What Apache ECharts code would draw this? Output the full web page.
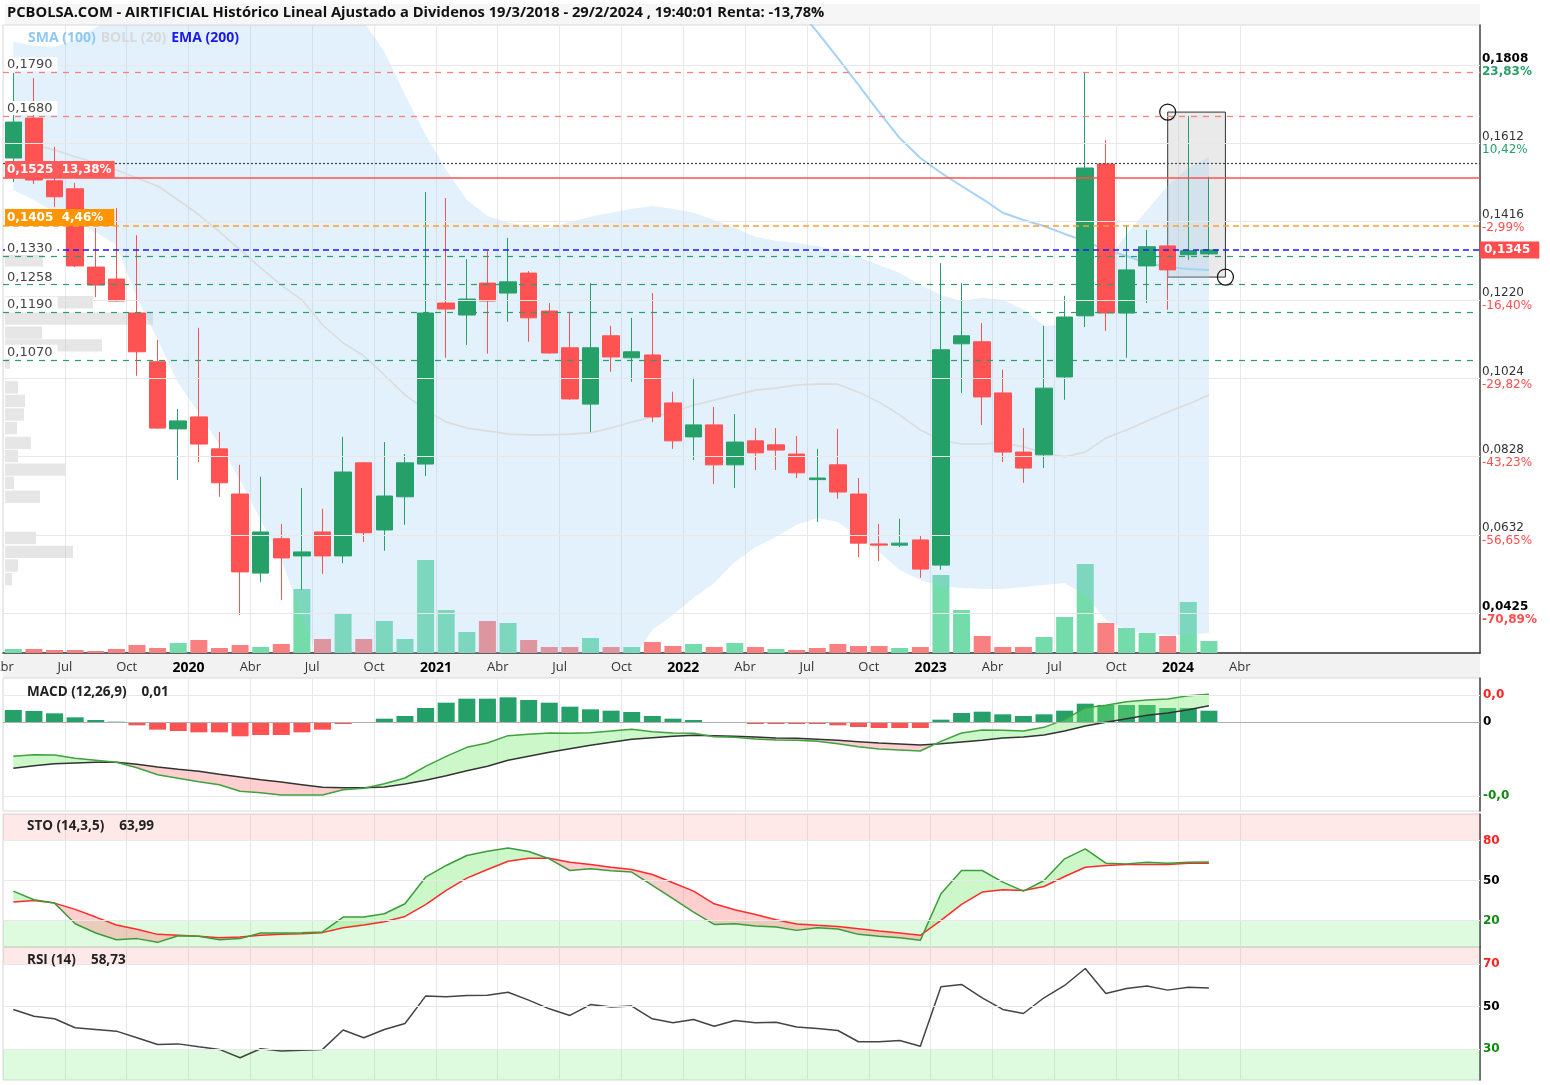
<!DOCTYPE html>
<html><head><meta charset="utf-8">
<script src="https://cdn.jsdelivr.net/npm/echarts@6/dist/echarts.min.js"></script>
<style>html,body{margin:0;padding:0;background:#fff;}#chart{width:1550px;height:1085px;}</style>
</head><body><div id="chart"></div>
<script>
// ================= DATA =================
const months = ['2019-04','2019-05','2019-06','2019-07','2019-08','2019-09','2019-10','2019-11','2019-12',
 '2020-01','2020-02','2020-03','2020-04','2020-05','2020-06','2020-07','2020-08','2020-09','2020-10','2020-11','2020-12',
 '2021-01','2021-02','2021-03','2021-04','2021-05','2021-06','2021-07','2021-08','2021-09','2021-10','2021-11','2021-12',
 '2022-01','2022-02','2022-03','2022-04','2022-05','2022-06','2022-07','2022-08','2022-09','2022-10','2022-11','2022-12',
 '2023-01','2023-02','2023-03','2023-04','2023-05','2023-06','2023-07','2023-08','2023-09','2023-10','2023-11','2023-12',
 '2024-01','2024-02'];
const open = [0.1575,0.1675,0.1518,0.1498,0.1302,0.1272,0.1187,0.1065,0.0897,0.0927,0.0847,0.0734,0.0536,0.0622,0.0579,0.0639,0.0579,0.0812,0.0644,0.0727,0.0809,0.1212,0.1182,0.1262,0.1237,0.1287,0.1192,0.1100,0.0959,0.1130,0.1075,0.1082,0.0962,0.0877,0.0907,0.0807,0.0867,0.0857,0.0834,0.0770,0.0807,0.0734,0.0609,0.0606,0.0619,0.0556,0.1110,0.1115,0.0987,0.0839,0.0832,0.1027,0.1180,0.1560,0.1187,0.1305,0.1355,0.1333,0.1335];
const high = [0.1788,0.1775,0.1603,0.1513,0.1400,0.1450,0.1382,0.1120,0.0947,0.1150,0.0889,0.0807,0.0777,0.0659,0.0749,0.0697,0.0877,0.0814,0.0864,0.0834,0.1490,0.1475,0.1322,0.1342,0.1375,0.1292,0.1212,0.1190,0.1262,0.1155,0.1175,0.1237,0.0990,0.1025,0.0952,0.0934,0.0899,0.0899,0.0879,0.0847,0.0897,0.0774,0.0659,0.0672,0.0629,0.1312,0.1262,0.1162,0.1045,0.0899,0.1155,0.1230,0.1790,0.1620,0.1407,0.1395,0.1360,0.1680,0.1528];
const low = [0.1515,0.1510,0.1453,0.1302,0.1227,0.1215,0.1030,0.0897,0.0769,0.0814,0.0727,0.0431,0.0514,0.0469,0.0494,0.0534,0.0561,0.0614,0.0592,0.0657,0.0779,0.1075,0.1107,0.1085,0.1165,0.1115,0.1085,0.0970,0.0889,0.1040,0.1015,0.0914,0.0847,0.0819,0.0759,0.0749,0.0794,0.0794,0.0774,0.0664,0.0722,0.0576,0.0566,0.0601,0.0524,0.0544,0.0987,0.0907,0.0814,0.0762,0.0799,0.0970,0.1152,0.1142,0.1075,0.1212,0.1195,0.1320,0.1332];
const close = [0.1665,0.1520,0.1478,0.1305,0.1257,0.1217,0.1090,0.0899,0.0917,0.0859,0.0762,0.0539,0.0639,0.0574,0.0589,0.0579,0.0789,0.0637,0.0729,0.0812,0.1187,0.1197,0.1222,0.1217,0.1265,0.1175,0.1087,0.0972,0.1100,0.1077,0.1090,0.0927,0.0867,0.0907,0.0807,0.0864,0.0837,0.0844,0.0787,0.0774,0.0739,0.0611,0.0606,0.0611,0.0546,0.1095,0.1130,0.0977,0.0839,0.0799,0.0999,0.1177,0.1550,0.1187,0.1295,0.1353,0.1295,0.1343,0.1345];
const volume = [0.4,0.4,0.3,0.3,0.2,0.4,0.8,0.5,1.0,1.3,0.5,0.8,0.6,0.9,6.4,1.4,4.0,1.4,3.2,1.4,9.3,4.3,2.1,3.2,3.0,1.3,0.6,0.6,1.5,0.6,0.6,1.1,0.7,0.9,0.6,1.0,0.6,0.4,0.3,0.5,0.9,0.7,0.7,0.5,0.6,7.8,4.3,1.7,0.6,0.6,1.6,3.6,8.9,3.0,2.5,2.0,1.7,5.1,1.2];
const bollUpper = [0.1866,0.1856,0.1853,0.1871,0.1901,0.1933,0.1960,0.1985,0.2000,0.2010,0.2020,0.2030,0.2030,0.2020,0.2010,0.1990,0.1960,0.1916,0.1841,0.1733,0.1633,0.1545,0.1470,0.1430,0.1413,0.1405,0.1400,0.1415,0.1428,0.1438,0.1448,0.1455,0.1448,0.1438,0.1420,0.1400,0.1378,0.1367,0.1362,0.1355,0.1342,0.1327,0.1307,0.1287,0.1257,0.1232,0.1217,0.1225,0.1220,0.1195,0.1155,0.1157,0.1190,0.1315,0.1383,0.1445,0.1505,0.1550,0.1578];
const bollMid = [null,0.1608,0.1595,0.1578,0.1563,0.1545,0.1525,0.1505,0.1470,0.1433,0.1390,0.1345,0.1300,0.1257,0.1220,0.1157,0.1112,0.1080,0.1032,0.0982,0.0944,0.0914,0.0899,0.0892,0.0884,0.0882,0.0882,0.0884,0.0887,0.0899,0.0914,0.0927,0.0939,0.0957,0.0969,0.0982,0.0994,0.0999,0.1007,0.1009,0.1009,0.0989,0.0964,0.0932,0.0894,0.0869,0.0859,0.0859,0.0862,0.0852,0.0837,0.0827,0.0839,0.0874,0.0894,0.0917,0.0939,0.0959,0.0982];
const bollLower = [0.1495,0.1470,0.1440,0.1415,0.1390,0.1357,0.1225,0.1120,0.1012,0.0937,0.0857,0.0769,0.0669,0.0569,0.0431,0.0294,0.0219,0.0168,0.0118,0.0093,0.0068,0.0043,0.0031,0.0031,0.0043,0.0068,0.0106,0.0156,0.0206,0.0256,0.0318,0.0394,0.0431,0.0474,0.0511,0.0564,0.0601,0.0627,0.0657,0.0674,0.0664,0.0627,0.0589,0.0544,0.0519,0.0504,0.0499,0.0496,0.0496,0.0501,0.0506,0.0511,0.0481,0.0419,0.0394,0.0384,0.0381,0.0381,0.0386];
const sma100 = [null,null,null,null,null,null,null,null,null,null,null,null,null,null,null,null,null,null,null,null,
 null,null,null,null,null,null,null,null,null,null,null,null,null,null,null,null,null,null,
 0.1951,0.1891,0.1825,0.1758,0.1690,0.1625,0.1575,0.1538,0.1505,0.1473,0.1438,0.1420,0.1405,0.1385,0.1367,0.1345,0.1330,0.1312,0.1302,0.1297,0.1295];
const macdHist = [0.0036,0.0033,0.0026,0.0014,0.0006,0.0001,-0.0010,-0.0023,-0.0027,-0.0031,-0.0031,-0.0043,-0.0039,-0.0039,-0.0031,-0.0023,-0.0006,-0.0002,0.0010,0.0018,0.0042,0.0058,0.0070,0.0070,0.0074,0.0066,0.0058,0.0046,0.0038,0.0034,0.0030,0.0018,0.0010,0.0006,-0.0003,-0.0003,-0.0006,-0.0006,-0.0006,-0.0006,-0.0010,-0.0015,-0.0018,-0.0018,-0.0018,0.0007,0.0027,0.0031,0.0023,0.0018,0.0023,0.0034,0.0055,0.0051,0.0051,0.0051,0.0042,0.0042,0.0034];
const macdLine = [-0.0103,-0.0098,-0.0099,-0.0109,-0.0115,-0.0121,-0.0137,-0.0158,-0.0169,-0.0179,-0.0188,-0.0208,-0.0212,-0.0219,-0.0219,-0.0219,-0.0203,-0.0199,-0.0185,-0.0168,-0.0133,-0.0103,-0.0076,-0.0063,-0.0041,-0.0037,-0.0033,-0.0034,-0.0032,-0.0027,-0.0022,-0.0029,-0.0033,-0.0034,-0.0044,-0.0046,-0.0051,-0.0054,-0.0055,-0.0058,-0.0065,-0.0074,-0.0081,-0.0084,-0.0087,-0.0058,-0.0033,-0.0024,-0.0025,-0.0027,-0.0016,0.0007,0.0043,0.0050,0.0061,0.0066,0.0069,0.0079,0.0083];
const macdSignal = [-0.0139,-0.0131,-0.0125,-0.0123,-0.0121,-0.0121,-0.0127,-0.0135,-0.0142,-0.0148,-0.0157,-0.0165,-0.0173,-0.0180,-0.0188,-0.0196,-0.0197,-0.0197,-0.0195,-0.0186,-0.0175,-0.0161,-0.0146,-0.0133,-0.0115,-0.0103,-0.0091,-0.0080,-0.0070,-0.0061,-0.0052,-0.0047,-0.0043,-0.0040,-0.0041,-0.0043,-0.0045,-0.0048,-0.0049,-0.0052,-0.0055,-0.0059,-0.0063,-0.0066,-0.0069,-0.0065,-0.0060,-0.0055,-0.0048,-0.0045,-0.0039,-0.0027,-0.0012,-0.0001,0.0010,0.0020,0.0027,0.0037,0.0049];
const stoK = [42,35.5,33,17.5,10.5,5.5,6.3,3.5,8.5,8,5.5,6.3,10.5,10.5,10.8,11.3,22.5,22.5,25,32.5,52.5,61.3,68.8,72,74.5,71.8,66.3,57.5,58.8,57.3,56.3,46.3,36.3,26.3,17,17.5,15.8,15,12.5,14.5,13.5,9.5,8,7,5,40,57.5,57.5,48.8,42,50,66.3,73.8,63,62.5,63.8,63,63.8,64];
const stoD = [33.8,35,33,28.3,22.5,16.5,13.3,9.5,8.8,8,7,7.5,8.8,9.5,10,10.8,14.5,16.5,19,23,31.8,42.5,51.8,58.3,64.5,66.8,66.8,63.8,62,60,58.3,54.5,48.3,42,32.5,28,24.5,20.5,17.3,16.3,15.5,13.8,12,10.5,8.8,20,32,41.3,43,42.5,45.5,53,60,61.3,62,62,62,63,63];
const rsi = [48.6,45.4,44.2,40,39.2,38.4,35.3,32.1,32.4,31,29.8,25.9,30.1,29,29.4,29.8,38.9,35.3,39.2,42,54.9,54.6,55.2,55.3,56.7,53,48.9,45.8,50.9,49.8,50.2,44.2,42.3,43.9,40.7,43.4,42.3,42.6,40.3,39.6,38.7,33.4,33.4,34,31.3,59.3,60.4,54.1,48.6,46.7,54.1,59.9,67.9,56.1,58.5,59.6,57.7,59.1,58.7];
const profilePrice = [0.1319,0.1214,0.1173,0.1138,0.1106,0.1063,0.1001,0.0967,0.0933,0.0899,0.0862,0.0829,0.0795,0.0762,0.0727,0.0624,0.0589,0.0555,0.0521];
const profileVolume = [3.8,8.8,14.8,3.7,9.7,0.5,1.3,2.0,1.9,1.2,2.6,1.3,6.0,0.9,3.5,3.1,6.8,1.3,0.7];
// horizontal levels / tick labels
const priceTicks = [0.1808,0.1612,0.1416,0.1220,0.1024,0.0828,0.0632,0.0436];
const priceTickText = ['0,1808','0,1612','0,1416','0,1220','0,1024','0,0828','0,0632','0,0425'];
const priceTickPct = ['23,83%','10,42%','-2,99%','-16,40%','-29,82%','-43,23%','-56,65%','-70,89%'];
const resistanceLevels = [0.1790,0.1680];
const supportLevels = [0.1330,0.1258,0.1190,0.1070];
const dottedLevel = 0.1563;
const targetLevel = 0.1525, targetPct = '13,38%';
const stopLevel = 0.1405, stopPct = '4,46%';
const lastPrice = 0.1345;
const rangeBox = [[59.5,0.1690],[62.3,0.1277]]; // annotation corners (x in months since 2019-01)
const quarterNames = ['Abr','Jul','Oct'];
const macdTicks = [0.0081,0,-0.0222], macdTickText = ['0,0','0','-0,0'];
const stoTicks = [80,50,20], rsiTicks = [70,50,30];
const stoLast = 63.993, rsiLast = 58.736;
const titleText = 'PCBOLSA.COM - AIRTIFICIAL Histórico Lineal Ajustado a Dividenos 19/3/2018 - 29/2/2024 , 19:40:01 Renta: -13,78%';

// ================= CHART =================
const FONT = "'Open Sans', sans-serif";
const DV = "'DejaVu Sans', sans-serif";
const GREEN = '#26a069', RED = '#ff5252';
const xs = months.map(m => { const p = m.split('-').map(Number); return (p[0] - 2019) * 12 + (p[1] - 1) + 0.5; });
const X_MIN = 3, X_MAX = 74.65, X_LAST = 63;
const splitColors = [];
for (let v = X_MIN; v <= X_MAX + 1e-9; v += 3) splitColors.push(v <= X_LAST ? '#e8e8e8' : 'rgba(0,0,0,0)');
splitColors.push('rgba(0,0,0,0)');
const fmt4 = v => v.toFixed(4).replace('.', ',');

function xAxisFor(g, labels) {
  return {
    type: 'value', gridIndex: g, min: X_MIN, max: X_MAX, interval: 3,
    axisLine: {show: g === 0, onZero: false, lineStyle: {color: '#333', width: 1.5}},
    axisTick: {show: false},
    splitLine: {show: true, lineStyle: {color: splitColors, width: 1}},
    axisLabel: labels ? {
      show: true, margin: 8, fontFamily: FONT, fontSize: 13, color: '#333', hideOverlap: false,
      formatter: v => {
        const r = Math.round(v);
        if (v > X_LAST + 1e-6 || Math.abs(v - r) > 1e-6 || r % 3 !== 0) return '';
        const m = ((r % 12) + 12) % 12;
        if (m === 0) return '{y|' + (2019 + r / 12) + '}';
        return quarterNames[m / 3 - 1];
      },
      rich: {y: {fontFamily: FONT, fontSize: 14, fontWeight: 'bold', color: '#000'}}
    } : {show: false}
  };
}
function yAxisFor(g, min, max) {
  return {type: 'value', gridIndex: g, position: 'right', min, max,
    axisLine: {show: true, onZero: false, lineStyle: {color: '#444', width: 1.5}},
    axisTick: {show: false}, axisLabel: {show: false}, splitLine: {show: false}};
}
function fillBetween(a, b, xi, yi, up, down, z) {
  const data = [];
  for (let i = 0; i < xs.length - 1; i++) data.push([xs[i], a[i], i]);
  return {type: 'custom', xAxisIndex: xi, yAxisIndex: yi, z, silent: true, data,
    renderItem(params, api) {
      const i = api.value(2);
      const x0 = xs[i], x1 = xs[i + 1], a0 = a[i], a1 = a[i + 1], b0 = b[i], b1 = b[i + 1];
      const d0 = a0 - b0, d1 = a1 - b1;
      const ch = [];
      const poly = (pts, fill) => ch.push({type: 'polygon', shape: {points: pts.map(p => api.coord(p))}, style: {fill}});
      if (d0 * d1 >= 0) poly([[x0, a0], [x1, a1], [x1, b1], [x0, b0]], (d0 + d1) >= 0 ? up : down);
      else {
        const t = d0 / (d0 - d1), xc = x0 + t * (x1 - x0), yc = a0 + t * (a1 - a0);
        poly([[x0, a0], [xc, yc], [x0, b0]], d0 > 0 ? up : down);
        poly([[xc, yc], [x1, a1], [x1, b1]], d1 > 0 ? up : down);
      }
      return {type: 'group', children: ch};
    }};
}
const pairs = arr => xs.map((x, i) => [x, arr[i]]);
const rightLbl = (txt, color, extra) => Object.assign({show: true, position: 'end', distance: 3, formatter: txt, color, fontFamily: DV, fontSize: 12, fontWeight: 'bold'}, extra || {});
const gridLineStyle = {color: '#e8e8e8', type: 'solid', width: 1};

const priceGridLines = priceTicks.map((v, i) => {
  const bold = (i === 0 || i === priceTicks.length - 1);
  const pos = priceTickPct[i].charAt(0) !== '-';
  const vc = bold ? 'vb' : 'v';
  const pc = (pos ? 'pg' : 'pr') + (bold ? 'b' : '');
  const base = {fontFamily: DV, fontSize: 12, lineHeight: 13};
  return {yAxis: v, lineStyle: gridLineStyle,
    label: {show: true, position: 'end', distance: 2, formatter: '{' + vc + '|' + priceTickText[i] + '}\n{' + pc + '|' + priceTickPct[i] + '}',
      rich: {
        v: Object.assign({color: '#333'}, base),
        vb: Object.assign({color: '#000', fontWeight: 'bold'}, base),
        pg: Object.assign({color: GREEN}, base),
        pgb: Object.assign({color: GREEN, fontWeight: 'bold'}, base),
        pr: Object.assign({color: '#ff4d4d'}, base),
        prb: Object.assign({color: '#ff4d4d', fontWeight: 'bold'}, base)
      }}};
});
const leftLabel = v => ({show: true, position: 'insideStartTop', distance: [2, 1], formatter: fmt4(v), color: '#444',
  fontFamily: DV, fontSize: 13, backgroundColor: '#fff', padding: [1, 5, 0, 2]});
const levelLines = [];
resistanceLevels.forEach(v => levelLines.push({yAxis: v, lineStyle: {color: '#ff7f7f', type: [6, 6], width: 1.3}, label: leftLabel(v)}));
supportLevels.forEach(v => levelLines.push({yAxis: v, lineStyle: {color: '#2a9d6a', type: [6, 6], width: 1.2}, label: leftLabel(v)}));
levelLines.push({yAxis: dottedLevel, lineStyle: {color: '#444', type: [2, 2], width: 1.2}, label: {show: false}});
levelLines.push({yAxis: targetLevel, lineStyle: {color: '#ff5050', type: 'solid', width: 1.5},
  label: {show: true, position: 'insideStartTop', distance: [2, 0], formatter: fmt4(targetLevel) + '  ' + targetPct,
    color: '#fff', fontFamily: DV, fontSize: 12, fontWeight: 'bold', backgroundColor: '#ff5a5a', padding: [3, 3, 2, 2]}});
levelLines.push({yAxis: stopLevel, lineStyle: {color: '#ffa030', type: [6, 4], width: 1.5},
  label: {show: true, position: 'insideStartTop', distance: [2, 0], formatter: fmt4(stopLevel) + '  ' + stopPct,
    color: '#fff', fontFamily: DV, fontSize: 12, fontWeight: 'bold', backgroundColor: '#ff9500', padding: [3, 11, 2, 2]}});
levelLines.push({yAxis: lastPrice, lineStyle: {color: '#1a1aff', type: [6, 4], width: 1.5},
  label: {show: true, position: 'end', distance: 0, formatter: fmt4(lastPrice), color: '#fff', fontFamily: DV,
    fontSize: 12, fontWeight: 'bold', backgroundColor: '#ff4d4d', padding: [3, 9, 2, 4]}});

const paneTitle = (txt, val, top) => ({text: '{n|' + txt + '}   {n|' + val + '}', left: 27, top, padding: 0,
  textStyle: {rich: {n: {fontFamily: FONT, fontSize: 13.5, fontWeight: 'bold', color: '#222'}}}});
const gridBase = {left: 3, right: 70, show: true, borderColor: '#d8d8d8', borderWidth: 1, outerBoundsMode: 'none', containLabel: false};

const option = {
  animation: false,
  backgroundColor: '#fff',
  graphic: [
    {type: 'rect', z: -10, shape: {x: 5, y: 4, width: 1475, height: 21}, style: {fill: '#f6f6f6'}},
    {type: 'rect', z: -10, shape: {x: 3, y: 654, width: 1477, height: 24}, style: {fill: '#f2f2f2'}}
  ],
  title: [
    {text: titleText, left: 7, top: 5, padding: 0, textStyle: {fontFamily: FONT, fontSize: 14.7, fontWeight: 'bold', color: '#111'}},
    {text: '{a|SMA (100)} {b|BOLL (20)} {c|EMA (200)}', left: 28, top: 29, padding: 0,
      textStyle: {rich: {
        a: {fontFamily: FONT, fontSize: 14, fontWeight: 'bold', color: '#90c8f5'},
        b: {fontFamily: FONT, fontSize: 14, fontWeight: 'bold', color: '#d9d9d9'},
        c: {fontFamily: FONT, fontSize: 14, fontWeight: 'bold', color: '#1a1ae6'}}}},
    paneTitle('MACD (12,26,9)', '0,01', 683),
    paneTitle('STO (14,3,5)', '63,99', 817),
    paneTitle('RSI (14)', '58,73', 951)
  ],
  grid: [
    Object.assign({top: 25, height: 628}, gridBase),
    Object.assign({top: 678, height: 133}, gridBase),
    Object.assign({top: 814, height: 133}, gridBase),
    Object.assign({top: 947, height: 133}, gridBase)
  ],
  xAxis: [xAxisFor(0, true), xAxisFor(1, false), xAxisFor(2, false), xAxisFor(3, false),
    {type: 'value', gridIndex: 0, min: 0, max: 147.7, show: false}],
  yAxis: [yAxisFor(0, 0.0336, 0.1908), {type: 'value', gridIndex: 0, min: 0, max: 62.8, show: false},
    yAxisFor(1, -0.0267, 0.0132), yAxisFor(2, 0, 100), yAxisFor(3, 15.4, 78)],
  series: [
    {type: 'bar', name: 'vol', xAxisIndex: 0, yAxisIndex: 1, z: 1, barWidth: 17, silent: true,
      data: xs.map((x, i) => ({value: [x, volume[i]], itemStyle: {color: (i === 0 || close[i] >= close[i - 1]) ? '#74dcab' : '#f98080'}}))},
    {type: 'custom', name: 'profile', xAxisIndex: 4, yAxisIndex: 0, z: 1, silent: true,
      data: profilePrice.map((p, i) => [profileVolume[i], p]),
      renderItem(params, api) {
        const v = api.value(0), p = api.value(1), h = 0.0031;
        const a = api.coord([0, p + h / 2]), b = api.coord([v, p - h / 2]);
        return {type: 'rect', shape: {x: a[0] + 2, y: a[1], width: b[0] - a[0], height: b[1] - a[1]}, style: {fill: 'rgba(200,200,200,0.45)'}};
      }},
    {type: 'custom', name: 'band', xAxisIndex: 0, yAxisIndex: 0, z: 2, silent: true, clip: true,
      data: [[xs[0], bollUpper[0]]],
      renderItem(params, api) {
        const pts = [];
        for (let i = 0; i < xs.length; i++) pts.push(api.coord([xs[i], bollUpper[i]]));
        for (let i = xs.length - 1; i >= 0; i--) pts.push(api.coord([xs[i], bollLower[i]]));
        return {type: 'polygon', shape: {points: pts}, style: {fill: 'rgba(150,205,245,0.28)'}};
      }},
    {type: 'line', name: 'BOLL mid', xAxisIndex: 0, yAxisIndex: 0, z: 3, showSymbol: false, silent: true,
      data: pairs(bollMid), lineStyle: {color: '#dcdcdc', width: 1.6},
      markLine: {silent: true, precision: 6, symbol: ['none', 'none'], data: priceGridLines}},
    {type: 'line', name: 'SMA 100', xAxisIndex: 0, yAxisIndex: 0, z: 3, showSymbol: false, silent: true,
      data: pairs(sma100), lineStyle: {color: '#a5d2f6', width: 2}},
    {type: 'candlestick', name: 'AIRTIFICIAL', xAxisIndex: 0, yAxisIndex: 0, z: 4, barWidth: 17,
      data: xs.map((x, i) => [x, open[i], close[i], low[i], high[i]]),
      itemStyle: {color: GREEN, color0: RED, borderColor: GREEN, borderColor0: RED, borderWidth: 1},
      markLine: {silent: true, precision: 6, symbol: ['none', 'none'], data: levelLines},
      markArea: {silent: true, itemStyle: {color: 'rgba(190,190,190,0.32)', borderColor: '#333', borderWidth: 1},
        data: [[{coord: rangeBox[0]}, {coord: rangeBox[1]}]]},
      markPoint: {silent: true, symbol: 'circle', symbolSize: 16, label: {show: false},
        itemStyle: {color: 'rgba(0,0,0,0)', borderColor: '#111', borderWidth: 1.2},
        data: [{coord: rangeBox[0]}, {coord: rangeBox[1]}]}},
    // ---- MACD pane ----
    {type: 'line', name: 'macdHost', xAxisIndex: 1, yAxisIndex: 2, z: 1, showSymbol: false, silent: true,
      data: pairs(macdLine), lineStyle: {opacity: 0},
      markLine: {silent: true, precision: 6, symbol: ['none', 'none'], data: macdTicks.map((v, i) => ({yAxis: v,
        lineStyle: v === 0 ? {color: '#b0b0b0', type: 'solid', width: 1.2} : gridLineStyle,
        label: rightLbl(macdTickText[i], v > 0 ? '#ff2020' : (v < 0 ? '#118811' : '#000'))}))}},
    {type: 'bar', name: 'hist', xAxisIndex: 1, yAxisIndex: 2, z: 2, barWidth: 17, silent: true,
      data: xs.map((x, i) => ({value: [x, macdHist[i]], itemStyle: {color: macdHist[i] >= 0 ? GREEN : RED}}))},
    fillBetween(macdLine, macdSignal, 1, 2, 'rgba(120,235,110,0.38)', 'rgba(255,130,130,0.38)', 3),
    {type: 'line', name: 'signal', xAxisIndex: 1, yAxisIndex: 2, z: 4, showSymbol: false, silent: true,
      data: pairs(macdSignal), lineStyle: {color: '#333', width: 1.5}},
    {type: 'line', name: 'macd', xAxisIndex: 1, yAxisIndex: 2, z: 4, showSymbol: false, silent: true,
      data: pairs(macdLine), lineStyle: {color: '#3ea23e', width: 1.5}},
    // ---- STO pane ----
    {type: 'line', name: 'stoHost', xAxisIndex: 2, yAxisIndex: 3, z: 1, showSymbol: false, silent: true,
      data: pairs(stoK), lineStyle: {opacity: 0},
      markArea: {silent: true, data: [
        [{yAxis: 80, itemStyle: {color: 'rgba(255,120,120,0.17)'}}, {yAxis: 100}],
        [{yAxis: 0, itemStyle: {color: 'rgba(110,235,110,0.22)'}}, {yAxis: 20}]]},
      markLine: {silent: true, precision: 6, symbol: ['none', 'none'], data: stoTicks.map(v => ({yAxis: v, lineStyle: gridLineStyle,
        label: rightLbl(String(v), v === 80 ? '#ff2020' : (v === 20 ? '#118811' : '#000'))})).concat([
        {yAxis: stoLast, lineStyle: {opacity: 0}, label: rightLbl(stoLast.toFixed(3).replace('.', ','), '#fff',
          {distance: 0, backgroundColor: '#000', fontWeight: 'normal', fontSize: 13, padding: [2, 8, 1, 4]})}])}},
    fillBetween(stoK, stoD, 2, 3, 'rgba(120,235,110,0.38)', 'rgba(255,130,130,0.38)', 2),
    {type: 'line', name: '%D', xAxisIndex: 2, yAxisIndex: 3, z: 3, showSymbol: false, silent: true,
      data: pairs(stoD), lineStyle: {color: '#ff2a2a', width: 1.5}},
    {type: 'line', name: '%K', xAxisIndex: 2, yAxisIndex: 3, z: 3, showSymbol: false, silent: true,
      data: pairs(stoK), lineStyle: {color: '#3c9c3c', width: 1.5}},
    // ---- RSI pane ----
    {type: 'line', name: 'rsiHost', xAxisIndex: 3, yAxisIndex: 4, z: 1, showSymbol: false, silent: true,
      data: pairs(rsi), lineStyle: {opacity: 0},
      markArea: {silent: true, data: [
        [{yAxis: 70, itemStyle: {color: 'rgba(255,120,120,0.17)'}}, {yAxis: 78}],
        [{yAxis: 15.4, itemStyle: {color: 'rgba(110,235,110,0.22)'}}, {yAxis: 30}]]},
      markLine: {silent: true, precision: 6, symbol: ['none', 'none'], data: rsiTicks.map(v => ({yAxis: v, lineStyle: gridLineStyle,
        label: rightLbl(String(v), v === 70 ? '#ff2020' : (v === 30 ? '#118811' : '#000'))})).concat([
        {yAxis: rsiLast, lineStyle: {opacity: 0}, label: rightLbl(rsiLast.toFixed(3).replace('.', ','), '#fff',
          {distance: 0, backgroundColor: '#000', fontWeight: 'normal', fontSize: 13, padding: [2, 8, 1, 4]})}])}},
    {type: 'line', name: 'RSI', xAxisIndex: 3, yAxisIndex: 4, z: 3, showSymbol: false, silent: true,
      data: pairs(rsi), lineStyle: {color: '#444', width: 1.5}}
  ]
};
const chart = echarts.init(document.getElementById('chart'));
chart.setOption(option);
</script></body></html>
